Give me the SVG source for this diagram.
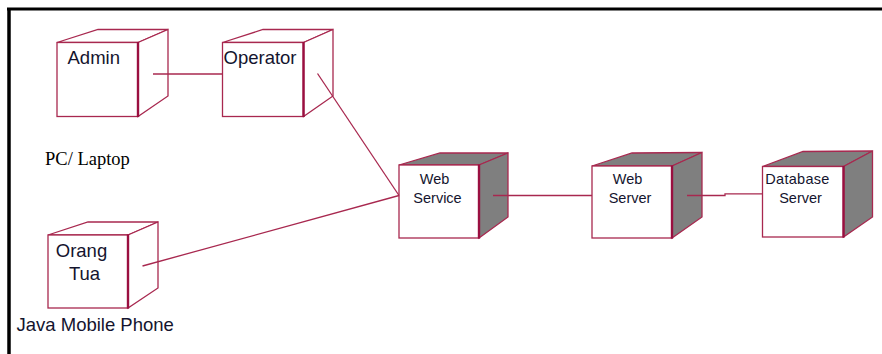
<svg xmlns="http://www.w3.org/2000/svg" width="882" height="354" viewBox="0 0 882 354">
  <style>
    .edge { fill: none; stroke: #a8284f; stroke-width: 1.3; }
    .face { fill: #ffffff; stroke: #a8284f; stroke-width: 1.3; stroke-linejoin: miter; }
    .shade { fill: #7f7f7f; stroke: #a8284f; stroke-width: 1.3; }
    .front { fill: #ffffff; stroke: #a8284f; stroke-width: 1.3; }
    .rim { stroke: #9a0f40; stroke-width: 2.4; }
    .big { font-family: "Liberation Sans", Arial, sans-serif; font-size: 18.5px; fill: #14142e; }
    .small { font-family: "Liberation Sans", Arial, sans-serif; font-size: 14.5px; fill: #14142e; text-anchor: middle; }
    .serif { font-family: "Liberation Serif", "Times New Roman", serif; font-size: 18.5px; fill: #000000; }
  </style>

  <rect width="882" height="354" fill="#ffffff"/>

  <!-- frame -->
  <line x1="7" y1="9" x2="882" y2="9" stroke="#000" stroke-width="3"/>
  <line x1="9" y1="8" x2="9" y2="354" stroke="#000" stroke-width="3.5"/>

  <!-- Admin -->
  <g id="admin">
    <polygon class="face" points="57,42.5 98,29.5 168,29.5 138,42.5"/>
    <polygon class="face" points="138,42.5 168,29.5 168,96 138,116.5"/>
    <rect class="front" x="57" y="42.5" width="81" height="74"/>
    <line class="rim" x1="138" y1="42" x2="138" y2="117"/>
    <text class="big" x="67.5" y="64">Admin</text>
  </g>

  <!-- Operator -->
  <g id="operator">
    <polygon class="face" points="222.5,42.5 263,29.5 333,29.5 303.5,42.5"/>
    <polygon class="face" points="303.5,42.5 333,29.5 333,96 303.5,116.5"/>
    <rect class="front" x="222.5" y="42.5" width="81" height="74"/>
    <line class="rim" x1="303.5" y1="42" x2="303.5" y2="117"/>
    <text class="big" x="223.5" y="64">Operator</text>
  </g>

  <!-- PC / Laptop caption -->
  <text class="serif" x="45" y="165">PC/ Laptop</text>

  <!-- Orang Tua -->
  <g id="orang-tua">
    <polygon class="face" points="48,235 88,222 158,222 128,235"/>
    <polygon class="face" points="128,235 158,222 158,288 128,308"/>
    <rect class="front" x="48" y="235" width="80" height="73"/>
    <line class="rim" x1="128" y1="234.5" x2="128" y2="308.5"/>
    <text class="big" x="81.5" y="256.5" text-anchor="middle">Orang</text>
    <text class="big" x="84.5" y="279.5" text-anchor="middle">Tua</text>
    <text class="big" x="16.5" y="330.5">Java Mobile Phone</text>
  </g>

  <!-- Web Service -->
  <g id="web-service">
    <polygon class="shade" points="399,165 440,153 508,153 479,165"/>
    <polygon class="shade" points="479,165 508,153 508,217 479,238"/>
    <rect class="front" x="399" y="165" width="80" height="73"/>
    <line class="rim" x1="479" y1="164.5" x2="479" y2="238.5"/>
    <text class="small" x="434.5" y="183.5">Web</text>
    <text class="small" x="437.5" y="202.5">Service</text>
  </g>

  <!-- Web Server -->
  <g id="web-server">
    <polygon class="shade" points="592,166 632,153 702,152.5 672,166"/>
    <polygon class="shade" points="672,166 702,152.5 702,217 672,238"/>
    <rect class="front" x="592" y="166" width="80" height="72"/>
    <line class="rim" x1="672" y1="165.5" x2="672" y2="238.5"/>
    <text class="small" x="627.5" y="183.5">Web</text>
    <text class="small" x="630" y="202.5">Server</text>
  </g>

  <!-- Database Server -->
  <g id="database-server">
    <polygon class="shade" points="762.5,166.5 803,151.5 872.5,151 843.5,166.5"/>
    <polygon class="shade" points="843.5,166.5 872.5,151 872.5,217 843.5,237"/>
    <rect class="front" x="762.5" y="166.5" width="81" height="70.5"/>
    <line class="rim" x1="843.5" y1="166" x2="843.5" y2="237.5"/>
    <text class="small" x="797.5" y="183.5" letter-spacing="0.3">Database</text>
    <text class="small" x="800.5" y="202.5">Server</text>
  </g>

  <!-- connectors, drawn last so their ends show over the side faces -->
  <g id="connectors" class="edge">
    <line x1="153" y1="74" x2="222.5" y2="74"/>
    <line x1="317.5" y1="73.5" x2="399" y2="195.5"/>
    <line x1="142.5" y1="266" x2="399" y2="195.5"/>
    <line x1="493" y1="195.5" x2="592" y2="195.5"/>
    <polyline points="687,195.5 725,195.5 725,193.8 762.5,193.8"/>
  </g>
</svg>
